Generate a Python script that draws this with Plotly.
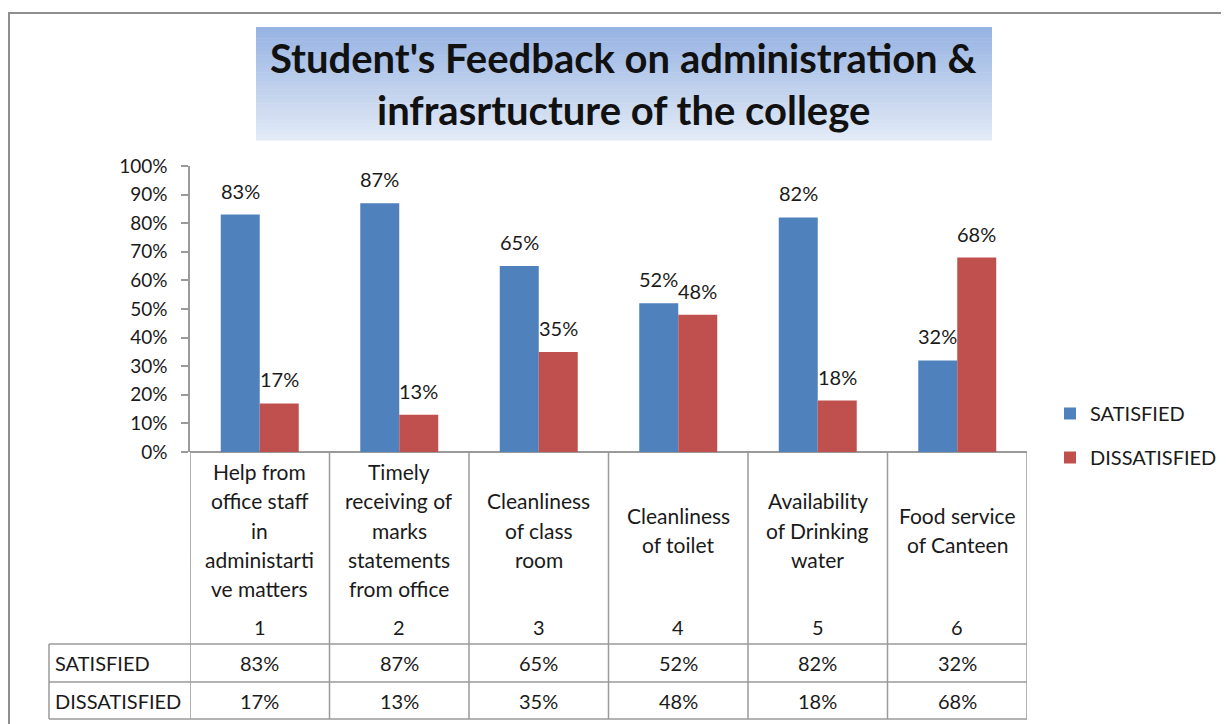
import plotly.graph_objects as go

# page has an 8px body margin, so the figure is sized to reach the window edges
OFF = 8
W, H = 1229 - OFF, 724 - OFF

# data
categories = [
    "Help from<br>office staff<br>in<br>administarti<br>ve matters",
    "Timely<br>receiving of<br>marks<br>statements<br>from office",
    "Cleanliness<br>of class<br>room",
    "Cleanliness<br>of toilet",
    "Availability<br>of Drinking<br>water",
    "Food service<br>of Canteen",
]
index_labels = [1, 2, 3, 4, 5, 6]
satisfied = [83, 87, 65, 52, 82, 32]
dissatisfied = [17, 13, 35, 48, 18, 68]
series_names = ["SATISFIED", "DISSATISFIED"]
colors = ["#4F81BD", "#C0504D"]
title_lines = ["Student's Feedback on administration &", "infrasrtucture of the college"]

FONT = "Lato, Carlito, Calibri, sans-serif"
TXT = "#1a1a1a"
GRID = "#9a9a9a"


def px_x(p):
    return (p - OFF) / W


def px_y(p):
    return 1 - (p - OFF) / H


fig = go.Figure()
for name, vals, col in zip(series_names, [satisfied, dissatisfied], colors):
    fig.add_trace(go.Bar(
        x=index_labels, y=[v / 100 for v in vals], name=name,
        marker=dict(color=col, line=dict(width=0)),
        legendgroup=name, hoverinfo="skip",
    ))

annotations = []
shapes = []

# data labels above bars
for k, vals in enumerate([satisfied, dissatisfied]):
    shift = -19.5 if k == 0 else 19.5
    for xi, v in zip(index_labels, vals):
        annotations.append(dict(
            x=xi, y=v / 100, xref="x", yref="y", text=f"{v}%",
            showarrow=False, xshift=shift, yshift=24, yanchor="middle",
            font=dict(size=20, color=TXT, family=FONT)))

# table: category header text, one annotation per line
line_gap = 29.3
for xi, cat in zip(index_labels, categories):
    parts = cat.split("<br>")
    start = 530 - (len(parts) - 1) * line_gap / 2
    for j, part in enumerate(parts):
        annotations.append(dict(
            x=xi, y=px_y(start + j * line_gap), xref="x", yref="paper",
            text=part, showarrow=False, yanchor="middle",
            font=dict(size=21, color=TXT, family=FONT)))
    annotations.append(dict(
        x=xi, y=px_y(627), xref="x", yref="paper", text=str(xi),
        showarrow=False, yanchor="middle",
        font=dict(size=20, color=TXT, family=FONT)))

# table value rows
row_y = [663, 701]
for name, vals, ry in zip(series_names, [satisfied, dissatisfied], row_y):
    annotations.append(dict(
        x=px_x(53), y=px_y(ry), xref="paper", yref="paper", text=name,
        showarrow=False, xanchor="left", yanchor="middle",
        font=dict(size=20, color=TXT, family=FONT)))
    for xi, v in zip(index_labels, vals):
        annotations.append(dict(
            x=xi, y=px_y(ry), xref="x", yref="paper", text=f"{v}%",
            showarrow=False, yanchor="middle",
            font=dict(size=20, color=TXT, family=FONT)))

# table grid lines
n = len(index_labels)
for k in range(n + 1):
    shapes.append(dict(type="line", xref="x", yref="paper",
                       x0=0.5 + k, x1=0.5 + k, y0=px_y(452), y1=px_y(719),
                       line=dict(color=GRID, width=1.5)))
shapes.append(dict(type="line", xref="paper", yref="paper",
                   x0=px_x(49), x1=px_x(49), y0=px_y(644), y1=px_y(719),
                   line=dict(color=GRID, width=1.5)))
for hy in [644, 682, 719]:
    shapes.append(dict(type="line", xref="paper", yref="paper",
                       x0=px_x(49), x1=px_x(1027), y0=px_y(hy), y1=px_y(hy),
                       line=dict(color=GRID, width=1.5)))

# outer chart frame
shapes.append(dict(type="rect", xref="paper", yref="paper",
                   x0=px_x(9), x1=px_x(1250), y0=px_y(740), y1=px_y(13),
                   line=dict(color="#8f8f8f", width=2), layer="below"))

# title box with vertical gradient
top_c = (150, 179, 226)
bot_c = (226, 234, 246)
steps = 40
bx0, bx1, by0, by1 = 256, 992, 27, 140
for s in range(steps):
    t = s / (steps - 1)
    c = tuple(int(round(a + (b - a) * t)) for a, b in zip(top_c, bot_c))
    ya = by0 + (by1 - by0) * s / steps
    yb = by0 + (by1 - by0) * (s + 1) / steps + 0.5
    shapes.append(dict(type="rect", xref="paper", yref="paper",
                       x0=px_x(bx0), x1=px_x(bx1), y0=px_y(yb), y1=px_y(ya),
                       fillcolor=f"rgb{c}", line=dict(width=0), layer="below"))

for ty, line in zip([58, 110], title_lines):
    annotations.append(dict(
        x=px_x(623), y=px_y(ty), xref="paper", yref="paper", text=f"<b>{line}</b>",
        showarrow=False, yanchor="middle",
        font=dict(size=40, color="#111111", family=FONT)))

fig.update_layout(
    width=W, height=H,
    margin=dict(l=0, r=0, t=0, b=0, autoexpand=False),
    paper_bgcolor="white", plot_bgcolor="white",
    barmode="group", bargap=0.441, bargroupgap=0,
    showlegend=True,
    legend=dict(x=px_x(1050), y=px_y(394), xanchor="left", yanchor="top",
                font=dict(size=20, color=TXT, family=FONT),
                tracegroupgap=15, bgcolor="rgba(0,0,0,0)"),
    xaxis=dict(domain=[px_x(190), px_x(1027)], range=[0.5, 6.5],
               showticklabels=False, ticks="", showgrid=False, zeroline=False,
               showline=False, fixedrange=True),
    yaxis=dict(domain=[px_y(452), px_y(166)], range=[0, 1], tickformat=".0%",
               dtick=0.1, showgrid=False, zeroline=True, zerolinecolor=GRID,
               zerolinewidth=1.5,
               showline=True, linecolor=GRID, linewidth=1.5, ticks="outside",
               ticklen=7, tickcolor=GRID, tickwidth=1.5, ticklabelstandoff=10,
               tickfont=dict(size=19, color=TXT, family=FONT), fixedrange=True),
    annotations=annotations, shapes=shapes,
)

fig.write_html("out.html")
